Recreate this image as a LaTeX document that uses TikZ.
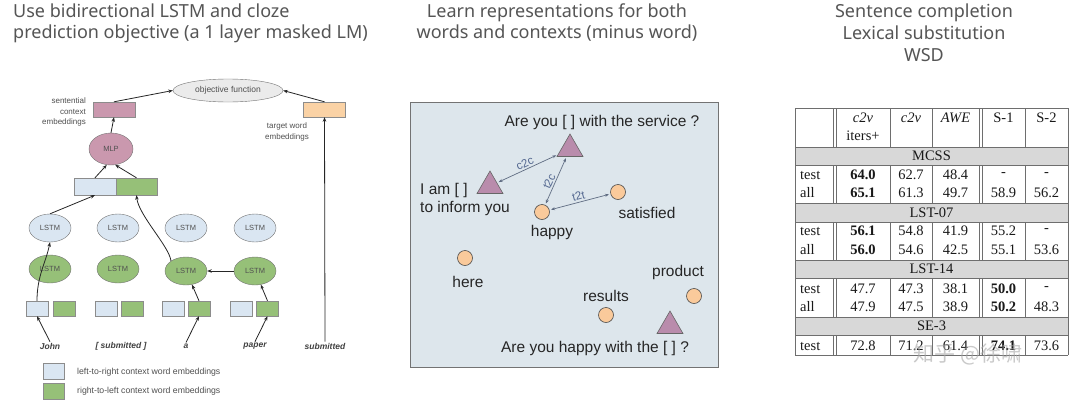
\documentclass[tikz,border=0pt]{standalone}
\usepackage{fontspec}
\setmainfont{Liberation Sans}
\newfontfamily\titlefont{Noto Sans}
\newfontfamily\tabfont{Liberation Serif}
\newfontfamily\cjkfont{Noto Sans CJK SC}
\usetikzlibrary{arrows.meta,shapes.geometric}
\definecolor{titlegray}{RGB}{85,85,85}
\definecolor{smallgray}{RGB}{80,80,80}
\definecolor{lblue}{RGB}{218,230,242}
\definecolor{lgreen}{RGB}{150,192,120}
\definecolor{mauve}{RGB}{202,152,174}
\definecolor{lorange}{RGB}{250,210,165}
\definecolor{panelbg}{RGB}{221,230,236}
\definecolor{tripurple}{RGB}{185,140,172}
\definecolor{circfill}{RGB}{250,202,155}
\definecolor{arrowgray}{RGB}{95,108,130}
\definecolor{lblcol}{RGB}{85,105,145}
\definecolor{rowgray}{RGB}{216,216,216}
\definecolor{tabline}{RGB}{110,110,110}
\tikzset{
  ttl/.style={font=\titlefont\fontsize{18}{21}\selectfont, text=titlegray, inner sep=0},
  arr/.style={-{Stealth[length=4.5pt,width=3.5pt]}, line width=0.8pt, black!85},
  lstmb/.style={ellipse, draw=black!55, fill=lblue, minimum width=42pt, minimum height=28pt, inner sep=0, font=\fontsize{7.5}{8}\selectfont, text=smallgray},
  lstmg/.style={lstmb, fill=lgreen},
  sq/.style={draw=black!45, minimum width=22pt, minimum height=15pt, inner sep=0},
  small/.style={font=\fontsize{8}{10.5}\selectfont, text=smallgray, inner sep=0},
  word/.style={font=\bfseries\itshape\fontsize{8.5}{10}\selectfont, text=black!75, inner sep=1pt},
  midtxt/.style={font=\fontsize{15.5}{18}\selectfont, text=black!85, inner sep=0},
  tri/.style={regular polygon, regular polygon sides=3, minimum size=30pt, inner sep=0, fill=tripurple, draw=black!60, line width=0.6pt},
  circ/.style={circle, minimum size=15pt, inner sep=0, fill=circfill, draw=black!70, line width=0.6pt},
  darr/.style={{Stealth[length=4pt,width=3pt]}-{Stealth[length=4pt,width=3pt]}, line width=0.7pt, arrowgray, shorten <=1.5pt, shorten >=1.5pt},
  albl/.style={font=\fontsize{11.5}{12}\selectfont, text=lblcol, sloped, above, inner sep=1.5pt},
  tabtxt/.style={font=\tabfont\fontsize{14.5}{16}\selectfont, text=black!90, inner sep=0},
  tl/.style={draw=tabline, line width=0.6pt}
}
\begin{document}
\begin{tikzpicture}[x=1pt,y=-1pt]
\useasboundingbox[fill=white] (0,0) rectangle (1080,407);

% ---------- titles ----------
\node[ttl, anchor=base west] (t1a) at (13,17) {Use bidirectional LSTM and cloze};
\node[ttl, anchor=base west] (t1b) at (13,38) {prediction objective (a 1 layer masked LM)};
\node[ttl, anchor=base] (t2a) at (557,17) {Learn representations for both};
\node[ttl, anchor=base] (t2b) at (557,38) {words and contexts (minus word)};
\node[ttl, anchor=base] (t3a) at (924,17) {Sentence completion};
\node[ttl, anchor=base] (t3b) at (924,39) {Lexical substitution};
\node[ttl, anchor=base] (t3c) at (924,61) {WSD};

% ---------- left diagram ----------
\node[ellipse, draw=black!55, fill=black!8, minimum width=110pt, minimum height=23pt, inner sep=0, font=\fontsize{8.5}{10}\selectfont, text=smallgray] (obj) at (228,90.5) {objective function};
\node[sq, fill=mauve, minimum width=42pt] (sce) at (114,109.5) {};
\node[sq, fill=lorange, minimum width=42pt] (twe) at (324.5,109.5) {};
\node[small, anchor=east, align=right] (scel) at (86,112) {sentential\\context\\embeddings};
\node[small, align=center] (twel) at (287,132) {target word\\embeddings};
\node[ellipse, draw=black!55, fill=mauve, minimum width=44pt, minimum height=32pt, inner sep=0, font=\fontsize{7.5}{8}\selectfont, text=smallgray] (mlp) at (111,149) {MLP};
\node[sq, fill=lblue, minimum width=42pt, minimum height=17pt] (cl) at (95,186.5) {};
\node[sq, fill=lgreen, minimum width=41pt, minimum height=17pt] (cr) at (136.5,186.5) {};

\node[lstmb] (lb1) at (50,228) {LSTM};
\node[lstmb] (lb2) at (118,228) {LSTM};
\node[lstmb] (lb3) at (186,228) {LSTM};
\node[lstmb] (lb4) at (255,228) {LSTM};
\node[lstmg] (lg1) at (50,269) {LSTM};
\node[lstmg] (lg2) at (118,269) {LSTM};
\node[lstmg] (lg3) at (186,271) {LSTM};
\node[lstmg] (lg4) at (255,271) {LSTM};

\node[sq, fill=lblue] (sb1) at (37,308.5) {};
\node[sq, fill=lgreen] (sg1) at (64,308.5) {};
\node[sq, fill=lblue] (sb2) at (106,308.5) {};
\node[sq, fill=lgreen] (sg2) at (132,308.5) {};
\node[sq, fill=lblue] (sb3) at (173,308.5) {};
\node[sq, fill=lgreen] (sg3) at (199,308.5) {};
\node[sq, fill=lblue] (sb4) at (241,308.5) {};
\node[sq, fill=lgreen] (sg4) at (267.5,308.5) {};

\node[word] (w1) at (50,346) {John};
\node[word] (w2) at (121,346) {[ submitted ]};
\node[word] (w3) at (186,346) {a};
\node[word] (w4) at (255,346) {paper};
\node[word] (w5) at (325,346) {submitted};

\draw[arr] (w1.north) -- (sb1.south);
\draw[arr] (w3.north) -- (sg3.south);
\draw[arr] (w4.north) -- (sg4.south);
\draw[arr] (sg3.north) -- (lg3);
\draw[arr] (sg4.north) -- (lg4);
\draw[arr] (lg4) -- (lg3);
\draw[arr] (sb1.north) .. controls +(0,-25) and +(-4,20) .. (lb1.south);
\draw[arr] (lb1.north) -- (cl.south);
\draw[arr] (lg3.north west) .. controls +(-2,-15) and +(2,20) .. (cr.south);
\draw[arr] (cl.north) -- (mlp.-105);
\draw[arr] (cr.north) -- (mlp.-75);
\draw[arr] (mlp.north) -- (sce.south);
\draw[arr] (sce.north) -- (obj.west);
\draw[arr] (twe.north) -- (obj.east);
\draw[arr] (w5.north) -- (twe.south);

\node[sq, fill=lblue, minimum width=21pt, minimum height=16pt] (lgb) at (53.5,371) {};
\node[sq, fill=lgreen, minimum width=21pt, minimum height=16pt] (lgg) at (53.5,391.5) {};
\node[small, anchor=west, font=\fontsize{8.7}{10}\selectfont] (lgbt) at (77,372) {left-to-right context word embeddings};
\node[small, anchor=west, font=\fontsize{8.7}{10}\selectfont] (lggt) at (77,391) {right-to-left context word embeddings};

% ---------- middle panel ----------
\node[draw=black!55, fill=panelbg, line width=0.8pt, minimum width=308pt, minimum height=265pt, inner sep=0] (panel) at (564,234.5) {};
\node[midtxt] (s1) at (602,122) {Are you [ ] with the service ?};
\node[tri] (tt) at (570,149) {};
\node[tri] (tl) at (490,186) {};
\node[tri] (tb) at (670,326) {};
\node[midtxt, anchor=west] (s2a) at (420,190) {I am [ ]};
\node[midtxt, anchor=west] (s2b) at (420,208) {to inform you};
\node[circ] (happy) at (542,212) {};
\node[circ] (sat) at (618,192) {};
\node[circ] (here) at (465,258) {};
\node[circ] (res) at (606,315) {};
\node[circ] (prod) at (694,296) {};
\node[midtxt] (happyl) at (552,232) {happy};
\node[midtxt] (satl) at (647,213) {satisfied};
\node[midtxt] (herel) at (468,282) {here};
\node[midtxt] (resl) at (606,296) {results};
\node[midtxt] (prodl) at (678,272) {product};
\node[midtxt] (s3) at (595,348) {Are you happy with the [ ] ?};
\draw[darr] (tl) -- node[albl] {c2c} (tt);
\draw[darr] (tt) -- node[albl, pos=0.56] {t2c} (happy);
\draw[darr] (happy) -- node[albl] {t2t} (sat);

% ---------- table ----------
\foreach \ya/\yb in {147/165, 203/222, 260/278, 317/335}
  \fill[rowgray] (795,\ya) rectangle (1068,\yb);
\foreach \yy in {108,147,165,203,222,260,278,317,335,355}
  \draw[tl] (795,\yy) -- (1068,\yy);
\draw[tl] (795,108) -- (795,355);
\draw[tl] (1068,108) -- (1068,355);
\foreach \ya/\yb in {108/147, 165/203, 222/260, 278/317, 335/355}
  \foreach \xx in {833,836,890,932,979,982,1025}
    \draw[tl] (\xx,\ya) -- (\xx,\yb);

\node[tabtxt] (h1a) at (863,118) {\itshape c2v};
\node[tabtxt] (h1b) at (863,136) {iters+};
\node[tabtxt] (h2) at (911,118) {\itshape c2v};
\node[tabtxt] (h3) at (955.5,118) {\itshape AWE};
\node[tabtxt] (h4) at (1003.5,118) {S-1};
\node[tabtxt] (h5) at (1046.5,118) {S-2};
\node[tabtxt] (sec1) at (931.5,156) {MCSS};
\node[tabtxt] (sec2) at (931.5,212.5) {LST-07};
\node[tabtxt] (sec3) at (931.5,269) {LST-14};
\node[tabtxt] (sec4) at (931.5,326) {SE-3};

\foreach \yy/\lab/\va/\vb/\vc/\vd/\ve [count=\r] in {
  175/test/{\bfseries 64.0}/62.7/48.4/-/-,
  193/all/{\bfseries 65.1}/61.3/49.7/58.9/56.2,
  231/test/{\bfseries 56.1}/54.8/41.9/55.2/-,
  250/all/{\bfseries 56.0}/54.6/42.5/55.1/53.6,
  289/test/47.7/47.3/38.1/{\bfseries 50.0}/-,
  307/all/47.9/47.5/38.9/{\bfseries 50.2}/48.3,
  346/test/72.8/71.2/61.4/{\bfseries 74.1}/73.6}
{
  \node[tabtxt, anchor=west] (rl\r) at (800,\yy) {\lab};
  \node[tabtxt] (ra\r) at (863,\yy) {\va};
  \node[tabtxt] (rb\r) at (911,\yy) {\vb};
  \node[tabtxt] (rc\r) at (955.5,\yy) {\vc};
  \node[tabtxt] (rd\r) at (1003.5,\yy) {\vd};
  \node[tabtxt] (re\r) at (1046.5,\yy) {\ve};
}
\node[font=\cjkfont\fontsize{21}{22}\selectfont, text=black!35, opacity=0.6, inner sep=0] (wm) at (968,354) {知乎 @徐啸};
\end{tikzpicture}
\end{document}
